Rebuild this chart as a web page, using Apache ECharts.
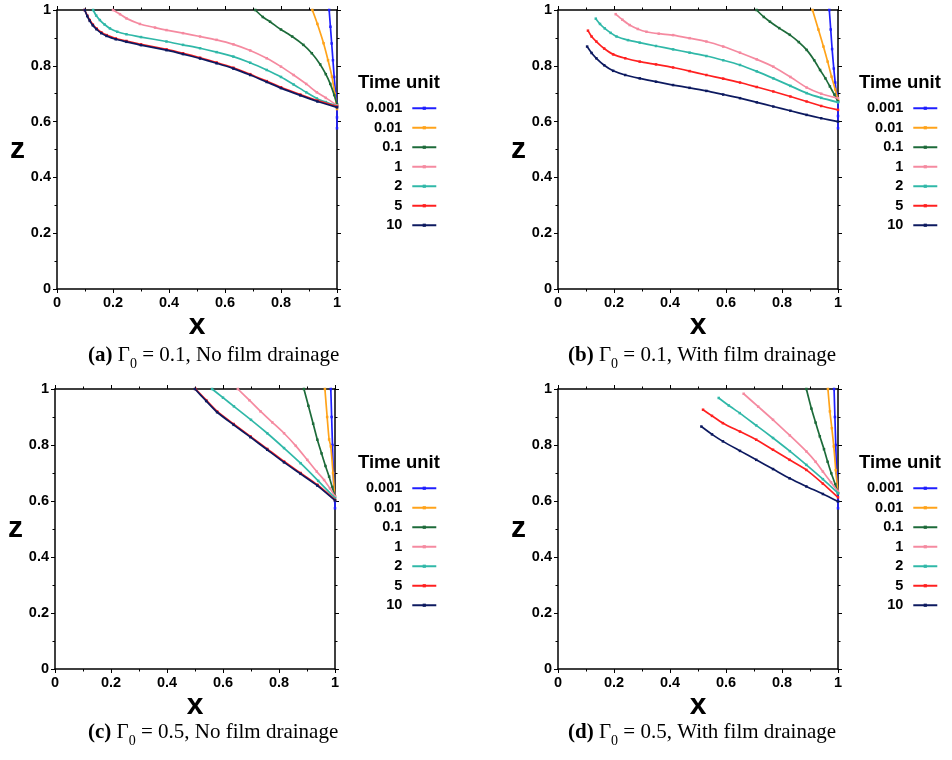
<!DOCTYPE html>
<html>
<head>
<meta charset="utf-8">
<script src="https://cdn.jsdelivr.net/npm/echarts@6/dist/echarts.min.js"></script>
<style>
  html, body { margin: 0; padding: 0; background: #ffffff; }
  #chart { width: 952px; height: 760px; }
</style>
</head>
<body>
<div id="chart"></div>
<script>
// Time units shown in every panel legend
const timeUnits = ['0.001', '0.01', '0.1', '1', '2', '5', '10'];
const seriesColors = ['#1f1fff', '#ffa31a', '#1d6b3a', '#f58aa0', '#30b8a8', '#ff2020', '#0d1a60'];
const tickValues = [0, 0.2, 0.4, 0.6, 0.8, 1];

// Interface profiles [x, z], one list per time unit
// (a) Γ0 = 0.1, no film drainage
const noDrain01 = [
  [[0.972,1],[0.9765,0.94],[0.981,0.88],[0.9855,0.82],[0.990,0.76],[0.995,0.70],[1.0,0.654],[1.0,0.615],[1.0,0.576]],
  [[0.912,1],[0.93,0.95],[0.952,0.881],[0.968,0.82],[0.982,0.761],[0.992,0.70],[1.0,0.645]],
  [[0.708,1],[0.735,0.975],[0.761,0.958],[0.80,0.93],[0.84,0.905],[0.88,0.875],[0.91,0.845],[0.94,0.805],[0.96,0.77],[0.976,0.735],[0.99,0.695],[1.0,0.662]],
  [[0.2,1],[0.225,0.985],[0.248,0.970],[0.296,0.950],[0.35,0.937],[0.391,0.928],[0.45,0.917],[0.511,0.905],[0.57,0.893],[0.63,0.877],[0.69,0.855],[0.749,0.827],[0.80,0.797],[0.845,0.767],[0.89,0.735],[0.928,0.705],[0.96,0.685],[1.0,0.658]],
  [[0.129,1],[0.14,0.98],[0.153,0.964],[0.17,0.948],[0.189,0.934],[0.215,0.922],[0.248,0.913],[0.30,0.903],[0.391,0.887],[0.45,0.875],[0.511,0.863],[0.57,0.849],[0.63,0.833],[0.69,0.811],[0.749,0.785],[0.80,0.76],[0.845,0.733],[0.89,0.705],[0.928,0.683],[0.96,0.670],[1.0,0.656]],
  [[0.099,1],[0.108,0.98],[0.117,0.964],[0.128,0.948],[0.141,0.934],[0.158,0.92],[0.177,0.910],[0.21,0.898],[0.248,0.889],[0.30,0.877],[0.391,0.859],[0.45,0.845],[0.511,0.829],[0.57,0.812],[0.63,0.793],[0.69,0.770],[0.749,0.745],[0.80,0.723],[0.869,0.697],[0.93,0.675],[1.0,0.654]],
  [[0.099,1],[0.108,0.978],[0.117,0.961],[0.128,0.945],[0.141,0.931],[0.158,0.917],[0.177,0.907],[0.21,0.895],[0.248,0.886],[0.30,0.874],[0.391,0.856],[0.45,0.842],[0.511,0.826],[0.57,0.809],[0.63,0.790],[0.69,0.767],[0.749,0.742],[0.80,0.720],[0.869,0.694],[0.93,0.672],[1.0,0.651]]
];

// (b) Γ0 = 0.1, with film drainage
const withDrain01 = [
  [[0.969,1],[0.974,0.93],[0.979,0.86],[0.985,0.79],[0.990,0.74],[0.995,0.70],[1.0,0.672],[1.0,0.62],[1.0,0.576]],
  [[0.909,1],[0.93,0.93],[0.948,0.869],[0.963,0.815],[0.977,0.761],[0.99,0.715],[1.0,0.678]],
  [[0.709,1],[0.735,0.975],[0.757,0.958],[0.79,0.935],[0.828,0.911],[0.86,0.885],[0.888,0.857],[0.915,0.82],[0.936,0.785],[0.955,0.755],[0.971,0.726],[0.987,0.697],[1.0,0.672]],
  [[0.206,0.985],[0.23,0.965],[0.256,0.946],[0.285,0.932],[0.316,0.922],[0.36,0.915],[0.411,0.910],[0.47,0.899],[0.53,0.887],[0.59,0.869],[0.65,0.847],[0.71,0.823],[0.769,0.797],[0.83,0.76],[0.888,0.722],[0.94,0.700],[1.0,0.684]],
  [[0.135,0.969],[0.15,0.95],[0.167,0.934],[0.188,0.918],[0.209,0.905],[0.25,0.892],[0.292,0.883],[0.35,0.871],[0.411,0.859],[0.47,0.847],[0.53,0.835],[0.59,0.82],[0.65,0.803],[0.71,0.78],[0.769,0.755],[0.83,0.728],[0.888,0.702],[0.94,0.685],[1.0,0.669]],
  [[0.107,0.926],[0.12,0.905],[0.137,0.887],[0.165,0.862],[0.197,0.841],[0.24,0.827],[0.292,0.815],[0.35,0.805],[0.411,0.794],[0.47,0.781],[0.53,0.767],[0.59,0.754],[0.65,0.740],[0.71,0.724],[0.769,0.708],[0.83,0.69],[0.888,0.672],[0.94,0.656],[1.0,0.642]],
  [[0.104,0.869],[0.12,0.846],[0.137,0.827],[0.165,0.802],[0.197,0.782],[0.24,0.767],[0.292,0.755],[0.35,0.743],[0.411,0.731],[0.47,0.721],[0.53,0.710],[0.59,0.697],[0.65,0.684],[0.71,0.669],[0.769,0.654],[0.83,0.639],[0.888,0.624],[0.94,0.612],[1.0,0.600]]
];

// (c) Γ0 = 0.5, no film drainage
const noDrain05 = [
  [[0.985,1],[0.988,0.9],[0.991,0.8],[0.994,0.7],[0.997,0.63],[1.0,0.6],[1.0,0.574]],
  [[0.964,1],[0.972,0.9],[0.979,0.82],[0.985,0.795],[0.993,0.70],[1.0,0.604]],
  [[0.889,1],[0.905,0.94],[0.922,0.876],[0.937,0.819],[0.952,0.77],[0.966,0.725],[0.979,0.687],[0.99,0.65],[1.0,0.616]],
  [[0.653,1],[0.694,0.96],[0.734,0.920],[0.776,0.881],[0.818,0.842],[0.86,0.797],[0.901,0.747],[0.935,0.705],[0.961,0.675],[0.982,0.645],[1.0,0.616]],
  [[0.561,1],[0.60,0.969],[0.639,0.938],[0.70,0.89],[0.758,0.842],[0.818,0.789],[0.877,0.735],[0.94,0.672],[1.0,0.61]],
  [[0.502,1],[0.54,0.96],[0.579,0.920],[0.638,0.875],[0.698,0.831],[0.758,0.786],[0.818,0.741],[0.877,0.70],[0.937,0.658],[1.0,0.604]],
  [[0.500,1],[0.54,0.957],[0.579,0.917],[0.638,0.872],[0.698,0.828],[0.758,0.783],[0.818,0.738],[0.877,0.697],[0.937,0.655],[1.0,0.602]]
];

// (d) Γ0 = 0.5, with film drainage
const withDrain05 = [
  [[0.986,1],[0.989,0.9],[0.992,0.8],[0.995,0.7],[0.998,0.64],[1.0,0.6],[1.0,0.574]],
  [[0.964,1],[0.971,0.92],[0.978,0.86],[0.985,0.795],[0.992,0.71],[1.0,0.628]],
  [[0.887,1],[0.905,0.93],[0.92,0.88],[0.935,0.831],[0.95,0.785],[0.963,0.74],[0.976,0.699],[0.99,0.66],[1.0,0.628]],
  [[0.663,0.983],[0.715,0.937],[0.768,0.890],[0.828,0.834],[0.887,0.777],[0.92,0.74],[0.946,0.705],[0.975,0.667],[1.0,0.634]],
  [[0.574,0.968],[0.61,0.941],[0.649,0.914],[0.708,0.87],[0.768,0.825],[0.828,0.778],[0.887,0.729],[0.946,0.678],[1.0,0.628]],
  [[0.518,0.926],[0.55,0.904],[0.589,0.878],[0.65,0.848],[0.708,0.819],[0.768,0.783],[0.827,0.747],[0.887,0.711],[0.946,0.662],[1.0,0.613]],
  [[0.512,0.866],[0.55,0.838],[0.589,0.813],[0.65,0.779],[0.708,0.747],[0.768,0.714],[0.827,0.681],[0.887,0.652],[0.946,0.625],[1.0,0.598]]
];

const panels = [noDrain01, withDrain01, noDrain05, withDrain05];
const captions = [
  ['(a)', '0.1', 'No film drainage'],
  ['(b)', '0.1', 'With film drainage'],
  ['(c)', '0.5', 'No film drainage'],
  ['(d)', '0.5', 'With film drainage']
];

// Layout of the four panels
const gridBoxes = [
  { left: 57,  top: 10,  width: 280, height: 279 },
  { left: 558, top: 10,  width: 280, height: 279 },
  { left: 55,  top: 389, width: 280, height: 280 },
  { left: 558, top: 389, width: 280, height: 280 }
];
const legendBoxes = [
  { left: 366, top: 100, titleLeft: 358, titleTop: 73 },
  { left: 867, top: 100, titleLeft: 859, titleTop: 73 },
  { left: 366, top: 480, titleLeft: 358, titleTop: 453 },
  { left: 867, top: 480, titleLeft: 859, titleTop: 453 }
];
const captionPos = [
  { left: 88,  top: 345 },
  { left: 568, top: 345 },
  { left: 88,  top: 722 },
  { left: 568, top: 722 }
];

const sansFont = '"Liberation Sans", Arial, sans-serif';
const serifFont = '"Liberation Serif", "Times New Roman", serif';

function axisBase(mirror) {
  return {
    type: 'value', min: 0, max: 1, interval: 0.2,
    axisLine: { show: true, onZero: false, lineStyle: { color: '#000', width: 1.5 } },
    axisTick: { show: true, inside: false, length: 4, lineStyle: { color: '#000', width: 1 } },
    minorTick: { show: true, splitNumber: 2, length: 2.5, lineStyle: { color: '#000', width: 1 } },
    splitLine: { show: false },
    axisLabel: mirror ? { show: false } : {
      show: true, color: '#000', fontFamily: sansFont, fontWeight: 'bold', fontSize: 14.5, margin: 6,
      formatter: v => String(+v.toFixed(1))
    }
  };
}

const nameStyle = { color: '#000', fontFamily: sansFont, fontWeight: 'bold', fontSize: 30 };
const grid = [], xAxis = [], yAxis = [], series = [], legend = [], title = [], graphic = [];

panels.forEach((curves, p) => {
  grid.push(Object.assign({ containLabel: false }, gridBoxes[p]));
  xAxis.push(Object.assign(axisBase(false), {
    gridIndex: p, position: 'bottom', name: 'x', nameLocation: 'middle', nameGap: 13,
    nameTextStyle: nameStyle
  }));
  xAxis.push(Object.assign(axisBase(true), { gridIndex: p, position: 'top' }));
  yAxis.push(Object.assign(axisBase(false), {
    gridIndex: p, position: 'left', name: 'z', nameLocation: 'middle', nameGap: 32, nameRotate: 0,
    nameTextStyle: nameStyle
  }));
  yAxis.push(Object.assign(axisBase(true), { gridIndex: p, position: 'right' }));

  curves.forEach((pts, k) => {
    series.push({
      type: 'line', name: timeUnits[k],
      xAxisIndex: 2 * p, yAxisIndex: 2 * p,
      data: pts,
      smooth: 0.2,
      symbol: 'rect', symbolSize: 2.5, showSymbol: true,
      color: seriesColors[k],
      lineStyle: { width: 1.7, color: seriesColors[k] },
      itemStyle: { color: seriesColors[k] },
      z: 2 + k,
      animation: false
    });
  });

  legend.push({
    orient: 'vertical', align: 'right', selectedMode: false,
    left: legendBoxes[p].left, top: legendBoxes[p].top,
    itemWidth: 24, itemHeight: 4, itemGap: 3, padding: 0,
    data: timeUnits,
    textStyle: { color: '#000', fontFamily: sansFont, fontWeight: 'bold', fontSize: 14.5, lineHeight: 16.5, padding: [0, 5, 0, 0] }
  });

  title.push({
    text: 'Time unit', left: legendBoxes[p].titleLeft, top: legendBoxes[p].titleTop, padding: 0,
    textStyle: { color: '#000', fontFamily: sansFont, fontWeight: 'bold', fontSize: 18.5 }
  });

  const c = captions[p];
  graphic.push({
    type: 'text', left: captionPos[p].left, top: captionPos[p].top,
    style: {
      text: '{b|' + c[0] + '} Γ{s|0} = ' + c[1] + ', ' + c[2],
      fill: '#000', font: '21px ' + serifFont,
      rich: {
        b: { fontFamily: serifFont, fontWeight: 'bold', fontSize: 21, fill: '#000' },
        s: { fontFamily: serifFont, fontSize: 14, padding: [18, 0, 0, 0], fill: '#000' }
      }
    }
  });
});

const chart = echarts.init(document.getElementById('chart'), null, { renderer: 'canvas' });
chart.setOption({
  backgroundColor: '#ffffff',
  animation: false,
  textStyle: { fontFamily: sansFont },
  grid, xAxis, yAxis, series, legend, title, graphic
});
</script>
</body>
</html>
